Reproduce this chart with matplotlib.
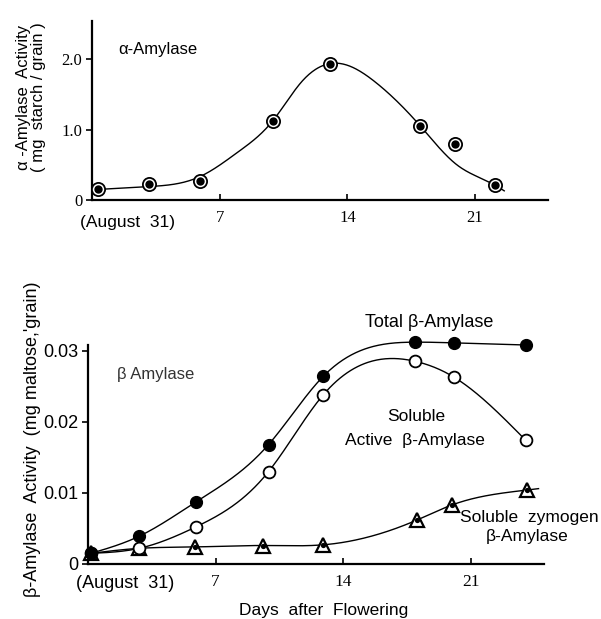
import numpy as np
import matplotlib
matplotlib.use("Agg")
import matplotlib.pyplot as plt

# ---------------- data ----------------
# alpha-amylase (top panel)
alpha_days = [0.35, 3.1, 5.9, 9.9, 13.05, 18.0, 19.9, 22.1]
alpha_vals = [0.155, 0.23, 0.27, 1.12, 1.93, 1.05, 0.80, 0.21]
# hand-drawn fitted curve of the original figure (knots)
alpha_curve_days = [0.35, 3.1, 5.9, 8.0, 9.9, 11.5, 13.5, 15.5, 18.0, 20.0, 22.1, 22.6]
alpha_curve_vals = [0.15, 0.19, 0.33, 0.68, 1.12, 1.68, 1.94, 1.68, 1.05, 0.50, 0.21, 0.13]

# beta-amylase (bottom panel)
beta_days = [0.16, 2.8, 5.9, 9.9, 12.9, 17.95, 20.05, 24.0]
total_vals = [0.0015, 0.0039, 0.0087, 0.0168, 0.0264, 0.0312, 0.0311, 0.0308]
active_vals = [0.0015, 0.0022, 0.0052, 0.0130, 0.0238, 0.0285, 0.0263, 0.0174]
zymo_days = [0.16, 2.8, 5.85, 9.6, 12.9, 18.05, 19.95, 24.05]
zymo_vals = [0.0015, 0.0022, 0.0024, 0.0026, 0.0027, 0.0062, 0.0083, 0.0104]
zymo_curve_end = [24.7, 0.0106]

x_ticks = [7, 14, 21]
x_ticklabels = ["7", "14", "21"]
alpha_yticks = [0, 1.0, 2.0]
alpha_yticklabels = ["0", "1.0", "2.0"]
beta_yticks = [0, 0.01, 0.02, 0.03]
beta_yticklabels = ["0", "0.01", "0.02", "0.03"]


def spline(x, y, xn):
    """natural cubic spline through (x, y), evaluated at xn"""
    x = np.asarray(x, float); y = np.asarray(y, float)
    n = len(x); h = np.diff(x)
    A = np.zeros((n, n)); b = np.zeros(n)
    A[0, 0] = A[-1, -1] = 1.0
    for i in range(1, n - 1):
        A[i, i - 1] = h[i - 1]
        A[i, i] = 2 * (h[i - 1] + h[i])
        A[i, i + 1] = h[i]
        b[i] = 6 * ((y[i + 1] - y[i]) / h[i] - (y[i] - y[i - 1]) / h[i - 1])
    M = np.linalg.solve(A, b)
    idx = np.clip(np.searchsorted(x, xn) - 1, 0, n - 2)
    x0 = x[idx]; x1 = x[idx + 1]; hh = h[idx]
    return (M[idx] * (x1 - xn) ** 3 / (6 * hh) + M[idx + 1] * (xn - x0) ** 3 / (6 * hh)
            + (y[idx] / hh - M[idx] * hh / 6) * (x1 - xn)
            + (y[idx + 1] / hh - M[idx + 1] * hh / 6) * (xn - x0))


W, H = 601, 619
fig = plt.figure(figsize=(W / 100, H / 100), dpi=100)

SANS = "Liberation Sans"
SERIF = "Liberation Serif"
LW = 1.0
SPW = 1.6


def style(ax):
    for s in ("top", "right"):
        ax.spines[s].set_visible(False)
    for s in ("left", "bottom"):
        ax.spines[s].set_linewidth(SPW)
    ax.tick_params(axis="x", direction="in", length=4, width=1.2, pad=7)
    ax.tick_params(axis="y", direction="out", length=4, width=1.2, pad=3)


# ---------------- top panel ----------------
ax1 = fig.add_axes([92 / W, 1 - 200 / H, (548 - 92) / W, (200 - 21) / H])
ax1.set_xlim(0, 25)
ax1.set_ylim(0, 2.54)
style(ax1)
xs = np.linspace(alpha_curve_days[0], alpha_curve_days[-1], 500)
ax1.plot(xs, spline(alpha_curve_days, alpha_curve_vals, xs), color="black", lw=LW,
         clip_on=False)
ax1.plot(alpha_days, alpha_vals, "o", ms=9.5, mfc="white", mec="black", mew=1.3,
         clip_on=False, zorder=3)
ax1.plot(alpha_days, alpha_vals, "o", ms=6.0, mfc="black", mec="black", mew=0,
         clip_on=False, zorder=4)
ax1.set_xticks(x_ticks)
ax1.set_xticklabels(x_ticklabels, fontfamily=SERIF, fontsize=12)
ax1.set_yticks(alpha_yticks)
ax1.set_yticklabels(alpha_yticklabels, fontfamily=SERIF, fontsize=12)
ax1.text(1.45, 2.14, "α-Amylase", fontfamily=SANS, fontsize=12, va="center", ha="left")
ax1.annotate("(August  31)", xy=(1.95, 0), xycoords=ax1.get_xaxis_transform(),
             xytext=(0, -16), textcoords="offset points", ha="center", va="center",
             fontfamily=SANS, fontsize=12.5)
fig.text(24 / W, 1 - 97 / H, "α -Amylase  Activity", rotation=90, ha="center",
         va="center", fontfamily=SANS, fontsize=12)
fig.text(39 / W, 1 - 97 / H, "( mg  starch / grain )", rotation=90, ha="center",
         va="center", fontfamily=SANS, fontsize=12)

# ---------------- bottom panel ----------------
ax2 = fig.add_axes([88 / W, 1 - 564 / H, (544 - 88) / W, (564 - 345) / H])
ax2.set_xlim(0, 25)
ax2.set_ylim(0, 0.0308)
style(ax2)

xs = np.linspace(beta_days[0], beta_days[-1], 500)
zx = list(zymo_days) + [zymo_curve_end[0]]
zy = list(zymo_vals) + [zymo_curve_end[1]]
xz = np.linspace(zx[0], zx[-1], 500)
ax2.plot(xz, spline(zx, zy, xz), color="black", lw=LW, zorder=2, clip_on=False)
ax2.plot(xs, spline(beta_days, active_vals, xs), color="black", lw=LW, zorder=2,
         clip_on=False)
ax2.plot(xs, spline(beta_days, total_vals, xs), color="black", lw=LW, zorder=2,
         clip_on=False)

ax2.plot(zymo_days, zymo_vals, "^", ms=10.5, mfc="white", mec="black", mew=1.6,
         clip_on=False, zorder=3)
ax2.plot(zymo_days, zymo_vals, "o", ms=3.8, mfc="black", mec="black", mew=0,
         clip_on=False, zorder=3.5)
ax2.plot(beta_days, active_vals, "o", ms=8.5, mfc="white", mec="black", mew=1.3,
         clip_on=False, zorder=4)
ax2.plot(beta_days, total_vals, "o", ms=8.5, mfc="black", mec="black", mew=1.0,
         clip_on=False, zorder=5)

ax2.set_xticks(x_ticks)
ax2.set_xticklabels(x_ticklabels, fontfamily=SERIF, fontsize=12.5)
ax2.set_yticks(beta_yticks)
ax2.set_yticklabels(beta_yticklabels, fontfamily=SANS, fontsize=13)

ax2.text(18.7, 0.0339, "Total β-Amylase", fontfamily=SANS, fontsize=13,
         ha="center", va="center")
ax2.text(1.6, 0.0266, "β Amylase", fontfamily=SANS, fontsize=12, color="#333333",
         ha="left", va="center")
ax2.text(18.0, 0.0207, "Soluble", fontfamily=SANS, fontsize=12.5, ha="center", va="center")
ax2.text(17.9, 0.0174, "Active  β-Amylase", fontfamily=SANS, fontsize=12.5,
         ha="center", va="center")
ax2.text(20.4, 0.0065, "Soluble  zymogen", fontfamily=SANS, fontsize=12.5,
         ha="left", va="center")
ax2.text(24.07, 0.0038, "β-Amylase", fontfamily=SANS, fontsize=12.5,
         ha="center", va="center")
ax2.annotate("(August  31)", xy=(2.03, 0), xycoords=ax2.get_xaxis_transform(),
             xytext=(0, -14), textcoords="offset points", ha="center", va="center",
             fontfamily=SANS, fontsize=13)
fig.text(324 / W, 1 - 610 / H, "Days  after  Flowering", ha="center", va="center",
         fontfamily=SANS, fontsize=12.5)
fig.text(33 / W, 1 - 439 / H, "β-Amylase  Activity  (mg maltose,'grain)", rotation=90,
         ha="center", va="center", fontfamily=SANS, fontsize=13)

fig.savefig("out.png", dpi=100)
